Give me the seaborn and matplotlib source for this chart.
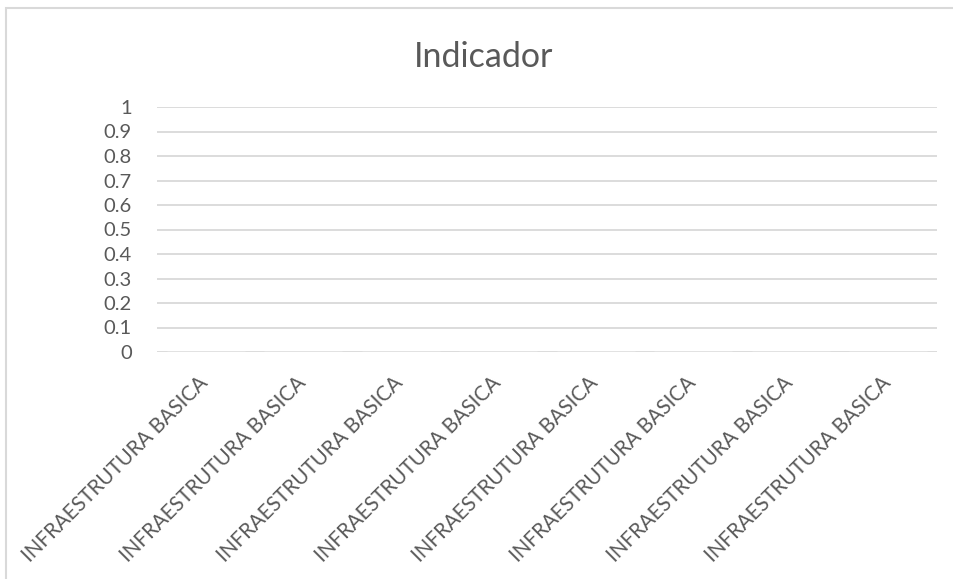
"""Empty column chart 'Indicador' with eight INFRAESTRUTURA BASICA categories."""

import matplotlib.pyplot as plt
import matplotlib.transforms as mtransforms
import pandas as pd
import seaborn as sns
from matplotlib.patches import Rectangle

# ---------------------------------------------------------------------------
# Data
# ---------------------------------------------------------------------------

CATEGORIES = ["INFRAESTRUTURA BASICA"] * 8
VALUES = [0, 0, 0, 0, 0, 0, 0, 0]
Y_TICKS = [0, 0.1, 0.2, 0.3, 0.4, 0.5, 0.6, 0.7, 0.8, 0.9, 1]
Y_TICK_LABELS = ["0", "0.1", "0.2", "0.3", "0.4", "0.5", "0.6", "0.7", "0.8", "0.9", "1"]
TITLE = "Indicador"

# ---------------------------------------------------------------------------
# Plot settings
# ---------------------------------------------------------------------------

TEXT_COLOR = "#595959"
GRID_COLOR = "#d9d9d9"

sns.set_theme(style="white")
plt.rcParams["font.family"] = ["Lato", "DejaVu Sans"]


def main() -> None:
    df = pd.DataFrame({
        "slot": list(range(len(CATEGORIES))),
        "value": VALUES,
    })

    fig = plt.figure(figsize=(9.54, 5.79), dpi=100)
    ax = fig.add_axes([157 / 954, 1 - 352 / 579, (937 - 157) / 954, (352 - 107) / 579])

    sns.barplot(data=df, x="slot", y="value", color="#4472c4", ax=ax)

    ax.set_ylim(0, 1)
    ax.set_yticks(Y_TICKS)
    ax.set_yticklabels(Y_TICK_LABELS)
    ax.set_xticks(range(len(CATEGORIES)))
    ax.set_xticklabels(CATEGORIES, rotation=45, ha="right", va="top",
                       rotation_mode="anchor")
    ax.set_xlim(-0.5, len(CATEGORIES) - 0.5)

    ax.tick_params(axis="y", length=0, pad=18, labelsize=14.5, colors=TEXT_COLOR)
    ax.tick_params(axis="x", length=0, pad=15, labelsize=14.8, colors=TEXT_COLOR)

    # nudge the slanted labels left so they end at the category centre
    shift = mtransforms.ScaledTranslation(-8 / 100, 0, fig.dpi_scale_trans)
    for label in ax.get_xticklabels():
        label.set_transform(label.get_transform() + shift)

    ax.yaxis.grid(True, color=GRID_COLOR, linewidth=1.3)
    ax.set_axisbelow(True)
    for spine in ax.spines.values():
        spine.set_visible(False)
    ax.set_xlabel("")
    ax.set_ylabel("")

    fig.text(484 / 954, 1 - 57 / 579, TITLE, ha="center", va="center",
             fontsize=24.5, color=TEXT_COLOR)

    # chart frame, cropped at the right and bottom like the reference
    fig.patches.append(Rectangle((6 / 954, -0.05), 1.1, 1 - 8 / 579 + 0.05,
                                 transform=fig.transFigure, fill=False,
                                 edgecolor=GRID_COLOR, linewidth=1.5))

    fig.savefig("out.png", dpi=100)
    plt.close(fig)


if __name__ == "__main__":
    main()
